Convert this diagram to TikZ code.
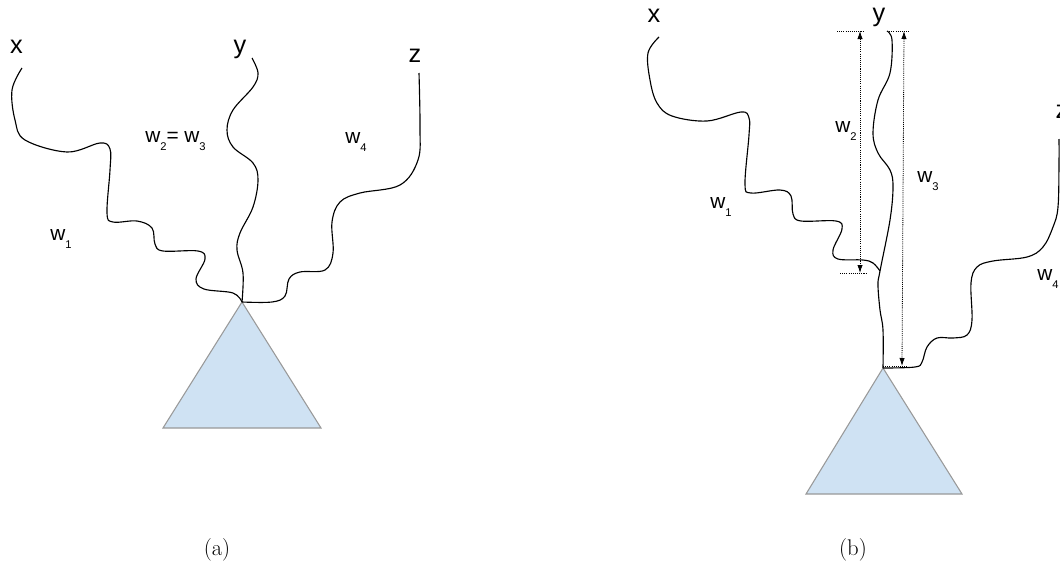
\documentclass[tikz,border=0pt]{standalone}
\usepackage{fontspec}
\newfontfamily\arialfont{Liberation Sans}
\usetikzlibrary{arrows.meta}
\definecolor{triblue}{HTML}{CFE2F3}
\definecolor{trigray}{HTML}{999999}
\newcommand{\wlab}[1]{w\raisebox{-6.5pt}{\fontsize{8.4}{9}\selectfont #1}}
\begin{document}
\begin{tikzpicture}[x=0.75pt,y=-0.75pt,
  vlabel/.style={font=\arialfont\fontsize{19}{20}\selectfont, inner sep=0, anchor=base},
  wlabel/.style={font=\arialfont\fontsize{15.6}{17}\selectfont, inner sep=0, anchor=base west},
  caption/.style={font=\fontsize{17}{19}\selectfont, inner sep=0, anchor=base},
  wire/.style={line width=0.85pt, line join=round},
  tri/.style={fill=triblue, draw=trigray, line width=0.8pt},
  dimline/.style={line width=0.6pt, dash pattern=on 0.8pt off 0.8pt},
  dimarrow/.style={dimline, {Latex[length=6pt,width=4pt]}-{Latex[length=6pt,width=4pt]}}
]
\useasboundingbox (0,0) rectangle (1060,565);

% ---------- panel (a) ----------
\node[vlabel] (xa) at (16.5,53) {x};
\node[vlabel] (ya) at (240,53) {y};
\node[vlabel] (za) at (415,62) {z};
\coordinate (apexa) at (242,302);
\coordinate (xas) at (22,68);
\coordinate (yas) at (252,58);
\coordinate (zas) at (419,73);
\draw[tri] (apexa) -- (163,428) -- (321,428) -- cycle;
\draw[wire] plot[smooth, tension=0.6] coordinates {(xas) (12,90) (15,120) (25,140) (67,152) (100,143) (110,149) (110,170) (107,213) (113,222) (137,221) (152,228) (155,244) (163,251) (198,251) (205,259) (196,279) (204,289) (233,293) (apexa)};
\draw[wire] plot[smooth, tension=0.6] coordinates {(yas) (258,73) (253,87) (233,110) (227,130) (233,147) (253,163) (258,180) (253,207) (240,233) (237,250) (243,273) (apexa)};
\draw[wire] plot[smooth, tension=0.6] coordinates {(zas) (420,127) (418,160) (400,185) (360,193) (340,202) (332,222) (333,253) (325,270) (300,272) (289,279) (285,296) (272,302) (apexa)};
\node[wlabel] (w1a) at (50,240) {\wlab{1}};
\node[wlabel] (w23a) at (145,142) {\wlab{2}= \wlab{3}};
\node[wlabel] (w4a) at (345,143) {\wlab{4}};
\node[caption] (capa) at (217,555) {(a)};

% ---------- panel (b) ----------
\node[vlabel] (xb) at (654,22) {x};
\node[vlabel] (yb) at (879,21) {y};
\node[vlabel] (zb) at (1062,118) {z};
\coordinate (apexb) at (883,368);
\coordinate (xbs) at (659,37);
\coordinate (ybs) at (887,31);
\coordinate (zbs) at (1059,139);
\coordinate (join) at (880,271);
\draw[tri] (apexb) -- (806,494) -- (962,494) -- cycle;
\draw[wire] plot[smooth, tension=0.6] coordinates {(xbs) (648,53) (650,80) (657,103) (672,116) (707,121) (741,112) (749,118) (749,135) (745,184) (751,193) (780,190) (791,196) (793,214) (801,221) (836,221) (842,229) (833,250) (838,259) (863,260) (873,263) (join)};
\draw[wire] plot[smooth, tension=0.6] coordinates {(ybs) (892,40) (890,73) (878,100) (873,133) (878,153) (890,170) (893,187) (890,220) (join) (878,285) (880,310) (883,330) (apexb)};
\draw[wire] plot[smooth, tension=0.6] coordinates {(zbs) (1059,163) (1058,207) (1053,227) (1043,247) (1027,257) (993,261) (977,267) (971,283) (972,320) (967,335) (953,338) (937,338) (927,347) (922,362) (915,367) (apexb)};

% dimension lines
\coordinate (w2t) at (860,31);
\coordinate (w2b) at (860,273);
\coordinate (w3t) at (904,31);
\coordinate (w3b) at (902,366);
\draw[dimline] (837,31) -- (863,31);
\draw[dimline] (840,273) -- (867,273);
\draw[dimline] (887,31) -- (910,31);
\draw[dimline] (883,366) -- (907,366);
\draw[dimarrow] (w2t) -- (w2b);
\draw[dimarrow] (w3t) -- (w3b);

\node[wlabel] (w1b) at (710,208) {\wlab{1}};
\node[wlabel] (w2lb) at (835,132) {\wlab{2}};
\node[wlabel] (w3lb) at (917,182) {\wlab{3}};
\node[wlabel] (w4b) at (1037,280) {\wlab{4}};
\node[caption] (capb) at (853,555) {(b)};
\end{tikzpicture}
\end{document}
